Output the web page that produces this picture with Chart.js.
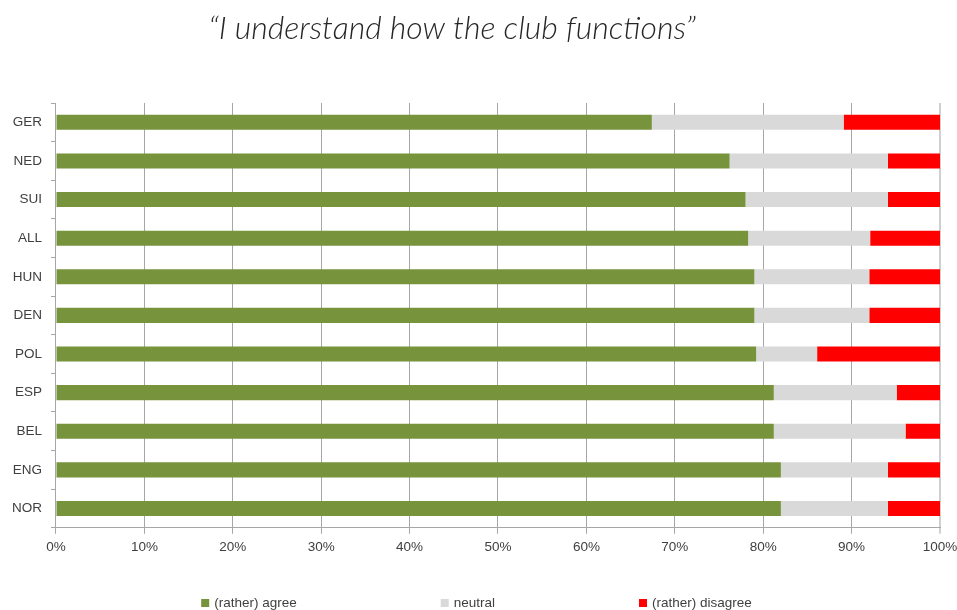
<!DOCTYPE html>
<html>
<head>
<meta charset="utf-8">
<title>I understand how the club functions</title>
<script src="https://cdn.jsdelivr.net/npm/chart.js@4"></script>
<style>
  html, body { margin: 0; padding: 0; background: #fff; }
  #wrap { width: 957px; height: 610px; position: relative; }
</style>
</head>
<body>
<div id="wrap"><canvas id="clubChart"></canvas></div>
<script>
const countries = ['GER', 'NED', 'SUI', 'ALL', 'HUN', 'DEN', 'POL', 'ESP', 'BEL', 'ENG', 'NOR'];
const agree    = [67.4, 76.2, 78.0, 78.3, 79.0, 79.0, 79.2, 81.2, 81.2, 82.0, 82.0];
const neutral  = [21.7, 17.9, 16.1, 13.8, 13.0, 13.0, 6.9, 13.9, 14.9, 12.1, 12.1];
const disagree = [10.9, 5.9, 5.9, 7.9, 8.0, 8.0, 13.9, 4.9, 3.9, 5.9, 5.9];
const xTicks = [0, 10, 20, 30, 40, 50, 60, 70, 80, 90, 100];

const labelFont = "'Liberation Sans', Arial, sans-serif";
const axisGrey = '#a6a6a6';

// headline in light italic above the plot
const headline = {
  id: 'headline',
  afterDraw(chart) {
    const ctx = chart.ctx;
    ctx.save();
    ctx.font = "italic 300 32px Lato, 'Open Sans', sans-serif";
    ctx.fillStyle = '#262626';
    ctx.textAlign = 'center';
    ctx.textBaseline = 'alphabetic';
    ctx.fillText('\u201CI understand how the club functions\u201D', chart.width * 0.4725, 39);
    ctx.restore();
  }
};

// legend row along the bottom edge, wide gaps between entries
const bottomLegend = {
  id: 'bottomLegend',
  afterDraw(chart) {
    const ctx = chart.ctx;
    const gap = 144, box = 8, textGap = 5;
    ctx.save();
    ctx.font = '13.5px ' + labelFont;
    const items = chart.data.datasets.map(ds => ({
      text: ds.label, color: ds.backgroundColor, w: box + textGap + ctx.measureText(ds.label).width
    }));
    const total = items.reduce((s, it) => s + it.w, 0) + gap * (items.length - 1);
    let x = chart.width / 2 - total / 2 - 2;
    const y = 603;
    ctx.textBaseline = 'middle';
    ctx.textAlign = 'left';
    items.forEach(it => {
      ctx.fillStyle = it.color;
      ctx.fillRect(x, y - box / 2, box, box);
      ctx.fillStyle = '#404040';
      ctx.fillText(it.text, x + box + textGap, y);
      x += it.w + gap;
    });
    ctx.restore();
  }
};

const bar = { barPercentage: 0.39, categoryPercentage: 1.0, borderWidth: 0 };

new Chart(document.getElementById('clubChart'), {
  type: 'bar',
  data: {
    labels: countries,
    datasets: [
      { label: '(rather) agree', data: agree, backgroundColor: '#77933c', ...bar },
      { label: 'neutral', data: neutral, backgroundColor: '#d9d9d9', ...bar },
      { label: '(rather) disagree', data: disagree, backgroundColor: '#ff0000', ...bar }
    ]
  },
  options: {
    indexAxis: 'y',
    responsive: true,
    maintainAspectRatio: false,
    animation: false,
    layout: { padding: { top: 103, bottom: 50, left: 3, right: 17 } },
    plugins: {
      legend: { display: false },
      title: { display: false },
      tooltip: { enabled: false }
    },
    scales: {
      x: {
        stacked: true,
        min: 0,
        max: 100,
        afterBuildTicks: scale => { scale.ticks = xTicks.map(v => ({ value: v })); },
        // let the last label hang into the layout padding
        afterFit: scale => { scale.paddingRight = 0; },
        ticks: {
          callback: v => v + '%',
          color: '#404040',
          font: { family: labelFont, size: 13.5 },
          padding: 5,
          maxRotation: 0
        },
        grid: {
          color: ctx => ctx.tick && ctx.tick.value === 100 ? '#d0d0d0' : axisGrey,
          lineWidth: ctx => ctx.tick && ctx.tick.value === 100 ? 2 : 1,
          tickLength: 6
        },
        border: { color: axisGrey }
      },
      y: {
        stacked: true,
        ticks: {
          color: '#404040',
          font: { family: labelFont, size: 13.5 },
          padding: 9
        },
        grid: {
          drawOnChartArea: false,
          offset: true,
          tickLength: 5,
          color: axisGrey
        },
        border: { color: axisGrey }
      }
    }
  },
  plugins: [headline, bottomLegend]
});
</script>
</body>
</html>
